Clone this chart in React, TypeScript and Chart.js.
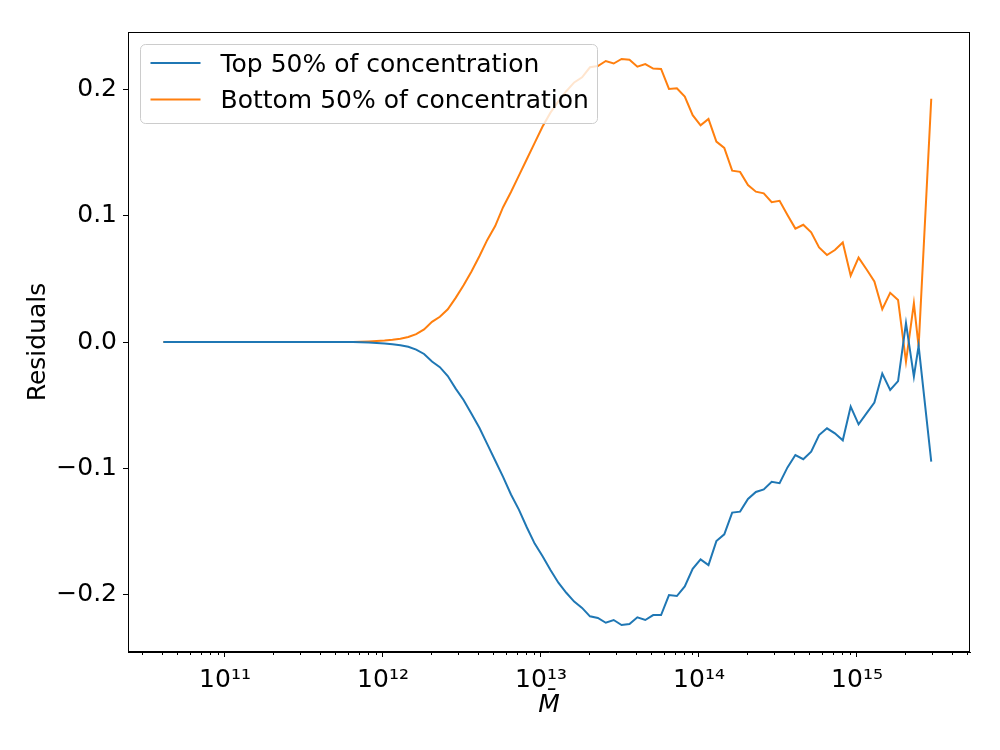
import React, { useEffect, useRef } from 'react';
import { Chart, registerables } from 'chart.js';

Chart.register(...registerables);

// log10 of mean halo mass per bin
const logMass = [
  10.61, 10.66, 10.71, 10.76, 10.81, 10.86, 10.91, 10.96, 11.01, 11.06,
  11.11, 11.16, 11.21, 11.26, 11.31, 11.36, 11.41, 11.46, 11.51, 11.56,
  11.61, 11.66, 11.71, 11.76, 11.81, 11.86, 11.91, 11.96, 12.01, 12.06,
  12.11, 12.16, 12.21, 12.26, 12.31, 12.36, 12.41, 12.46, 12.51, 12.56,
  12.61, 12.66, 12.71, 12.76, 12.81, 12.86, 12.91, 12.96, 13.01, 13.06,
  13.11, 13.16, 13.21, 13.26, 13.31, 13.36, 13.41, 13.46, 13.51, 13.56,
  13.61, 13.66, 13.71, 13.76, 13.81, 13.86, 13.91, 13.96, 14.01, 14.06,
  14.11, 14.16, 14.21, 14.26, 14.31, 14.36, 14.41, 14.46, 14.51, 14.56,
  14.61, 14.66, 14.71, 14.76, 14.81, 14.86, 14.91, 14.96, 15.01, 15.06,
  15.11, 15.16, 15.21, 15.26, 15.31, 15.36, 15.39, 15.47,
];

const topResiduals = [
  0, 0, 0, 0, 0, 0, 0, 0, 0, 0,
  0, 0, 0, 0, 0, 0, 0, 0, 0, 0,
  0, 0, 0, 0, 0,
  -0.0002, -0.0004, -0.0007, -0.0011, -0.0017, -0.0025, -0.0038, -0.006, -0.0095, -0.0155,
  -0.02, -0.027, -0.037, -0.046, -0.057, -0.068, -0.081, -0.094, -0.107, -0.121,
  -0.133, -0.147, -0.16, -0.17, -0.181, -0.191, -0.199, -0.206, -0.211, -0.2177,
  -0.219, -0.2228, -0.2206, -0.2246, -0.2238, -0.2185, -0.2206, -0.2167, -0.2167, -0.2008,
  -0.2016, -0.194, -0.18, -0.1725, -0.177, -0.158, -0.1526, -0.1354, -0.1346, -0.1246,
  -0.119, -0.117, -0.111, -0.112, -0.0995, -0.0897, -0.093, -0.087, -0.0738, -0.0685,
  -0.0725, -0.078, -0.0513, -0.0653, -0.0566, -0.048, -0.025, -0.038, -0.031, 0.015,
  -0.0275, -0.003, -0.095,
];

const bottomResiduals = [
  0, 0, 0, 0, 0, 0, 0, 0, 0, 0,
  0, 0, 0, 0, 0, 0, 0, 0, 0, 0,
  0, 0, 0, 0, 0,
  0.0002, 0.0004, 0.0007, 0.0011, 0.0017, 0.0026, 0.004, 0.0062, 0.01, 0.016,
  0.02, 0.026, 0.035, 0.045, 0.056, 0.068, 0.081, 0.092, 0.107, 0.119,
  0.132, 0.145, 0.158, 0.171, 0.182, 0.191, 0.199, 0.206, 0.21, 0.218,
  0.219, 0.223, 0.221, 0.2246, 0.224, 0.2185, 0.2206, 0.217, 0.2167, 0.2008,
  0.2013, 0.1947, 0.18, 0.172, 0.177, 0.159, 0.154, 0.136, 0.135, 0.1246,
  0.1193, 0.118, 0.111, 0.112, 0.1008, 0.09, 0.093, 0.087, 0.075, 0.069,
  0.073, 0.079, 0.0526, 0.067, 0.0577, 0.048, 0.026, 0.039, 0.0333, -0.0156,
  0.0307, -0.0037, 0.193,
];

const seriesLabels = ['Top 50% of concentration', 'Bottom 50% of concentration'];
const seriesColors = ['#1f77b4', '#ff7f0e'];
const xTickExponents = [11, 12, 13, 14, 15];
const yTickValues = [-0.2, -0.1, 0, 0.1, 0.2];

const FONT = '"DejaVu Sans", sans-serif';
const SUP: Record<string, string> = {
  '0': '⁰', '1': '¹', '2': '²', '3': '³', '4': '⁴',
  '5': '⁵', '6': '⁶', '7': '⁷', '8': '⁸', '9': '⁹',
};

const toSup = (n: number) => String(n).split('').map((c) => SUP[c] ?? c).join('');

// spines on all four sides, minor log ticks and the boxed legend
const framePlugin = {
  id: 'mplFrame',
  afterDraw(chart: any) {
    const { ctx, chartArea: a, scales } = chart;
    ctx.save();
    ctx.strokeStyle = '#000';
    ctx.lineWidth = 1;
    ctx.strokeRect(a.left + 0.5, a.top + 0.5, a.right - a.left - 1, a.bottom - a.top - 1);

    const xs = scales.x;
    for (let e = 10; e <= 15; e++) {
      for (let m = 2; m <= 9; m++) {
        const v = m * Math.pow(10, e);
        if (v < xs.min || v > xs.max) continue;
        const px = Math.round(xs.getPixelForValue(v)) + 0.5;
        ctx.beginPath();
        ctx.moveTo(px, a.bottom);
        ctx.lineTo(px, a.bottom + 3);
        ctx.stroke();
      }
    }

    const bx = a.left + 12.5;
    const by = a.top + 12.5;
    ctx.beginPath();
    ctx.roundRect(bx, by, 457, 79, 5);
    ctx.fillStyle = 'rgba(255,255,255,0.8)';
    ctx.fill();
    ctx.strokeStyle = '#cccccc';
    ctx.stroke();

    ctx.font = `25px ${FONT}`;
    ctx.textBaseline = 'alphabetic';
    ctx.textAlign = 'left';
    seriesLabels.forEach((label, i) => {
      const cy = by + 18.5 + 36.5 * i;
      ctx.strokeStyle = seriesColors[i];
      ctx.lineWidth = 2;
      ctx.beginPath();
      ctx.moveTo(bx + 10, cy);
      ctx.lineTo(bx + 60, cy);
      ctx.stroke();
      ctx.fillStyle = '#000';
      ctx.fillText(label, bx + 80, cy + 8.7);
    });
    ctx.restore();
  },
};

export default function App() {
  const canvasRef = useRef<HTMLCanvasElement>(null);
  const chartRef = useRef<Chart | null>(null);

  useEffect(() => {
    if (!canvasRef.current) return;
    if (chartRef.current) chartRef.current.destroy();

    const series = [topResiduals, bottomResiduals];

    chartRef.current = new Chart(canvasRef.current, {
      type: 'line',
      data: {
        datasets: series.map((vals, i) => ({
          label: seriesLabels[i],
          data: vals.map((y, j) => ({ x: Math.pow(10, logMass[j]), y })),
          borderColor: seriesColors[i],
          backgroundColor: seriesColors[i],
          borderWidth: 2,
          pointRadius: 0,
          tension: 0,
          fill: false,
        })),
      },
      options: {
        animation: false,
        responsive: true,
        maintainAspectRatio: false,
        layout: { padding: { top: 32, right: 30, left: 0, bottom: 0 } },
        plugins: {
          legend: { display: false },
          tooltip: { enabled: false },
        },
        scales: {
          x: {
            type: 'logarithmic',
            min: Math.pow(10, 10.3861),
            max: Math.pow(10, 15.7152),
            afterFit: (s: any) => { s.height = 98; },
            afterBuildTicks: (s: any) => {
              s.ticks = xTickExponents.map((e) => ({ value: Math.pow(10, e) }));
            },
            ticks: {
              callback: (v: any) => '10' + toSup(Math.round(Math.log10(Number(v)))),
              font: { family: FONT, size: 25 },
              color: '#000',
              padding: 8,
              maxRotation: 0,
              autoSkip: false,
            },
            grid: {
              display: true,
              drawOnChartArea: false,
              drawTicks: true,
              tickLength: 5,
              tickColor: '#000',
              tickWidth: 1,
            },
            border: { display: true, color: '#000', width: 1 },
            title: {
              display: true,
              text: 'M̄',
              font: { family: FONT, size: 25, style: 'italic' },
              color: '#000',
              padding: { top: 0, bottom: 30 },
            },
          },
          y: {
            type: 'linear',
            min: -0.246,
            max: 0.246,
            afterFit: (s: any) => { s.width = 128; },
            afterBuildTicks: (s: any) => {
              s.ticks = yTickValues.map((v) => ({ value: v }));
            },
            ticks: {
              callback: (v: any) => (Number(v) < 0 ? '−' : '') + Math.abs(Number(v)).toFixed(1),
              font: { family: FONT, size: 25 },
              color: '#000',
              padding: 6,
            },
            grid: {
              display: true,
              drawOnChartArea: false,
              drawTicks: true,
              tickLength: 5,
              tickColor: '#000',
              tickWidth: 1,
            },
            border: { display: true, color: '#000', width: 1 },
            title: {
              display: true,
              text: 'Residuals',
              font: { family: FONT, size: 25 },
              color: '#000',
              padding: { top: 23, bottom: 0 },
            },
          },
        },
      },
      plugins: [framePlugin],
    });

    return () => {
      if (chartRef.current) {
        chartRef.current.destroy();
        chartRef.current = null;
      }
    };
  }, []);

  return (
    <div style={{ position: 'absolute', left: 0, top: 0, width: 1000, height: 750, background: '#fff' }}>
      <canvas ref={canvasRef}></canvas>
    </div>
  );
}
